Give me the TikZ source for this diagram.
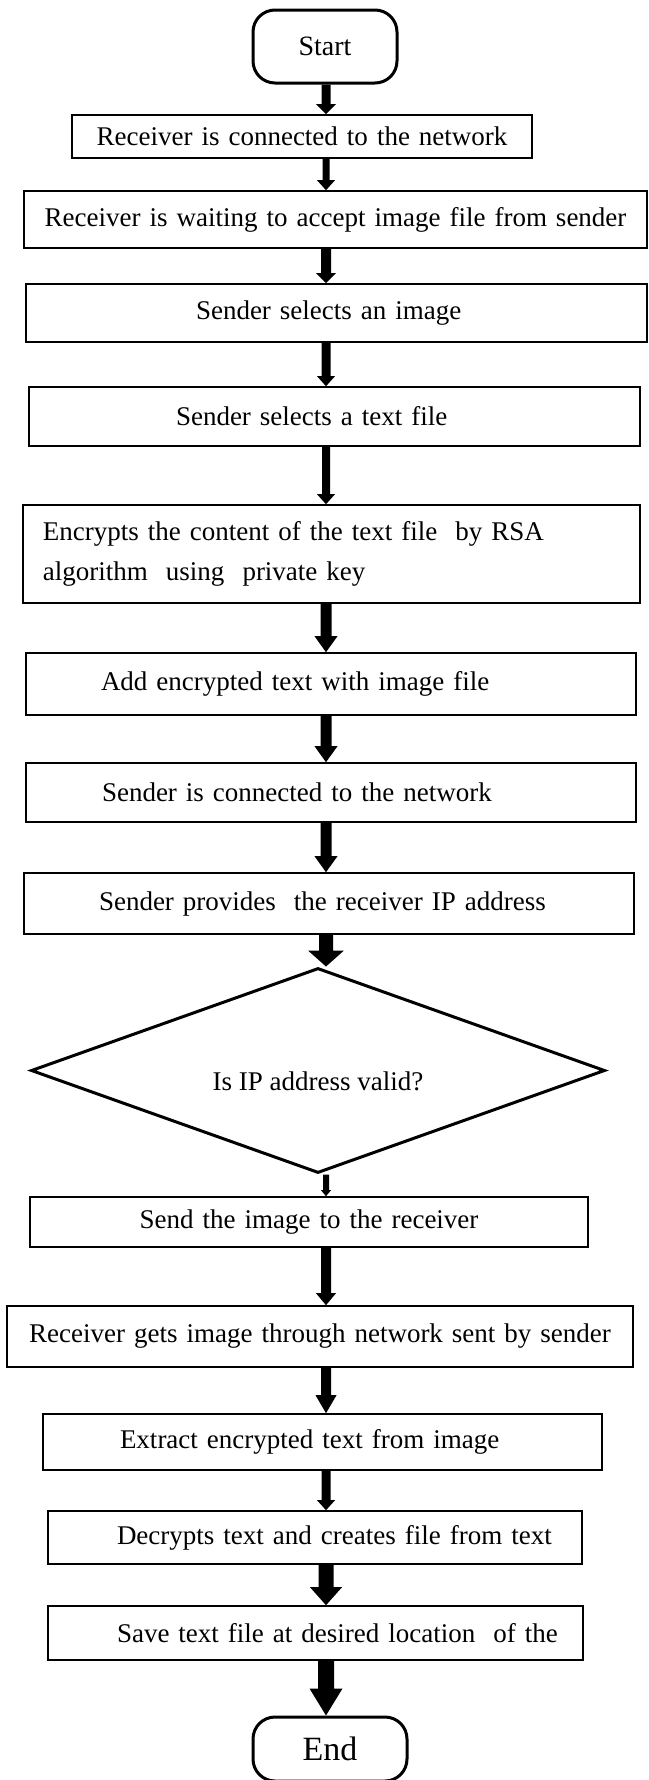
\documentclass[tikz,border=0pt]{standalone}
\usepackage{fontspec}
\setmainfont{Liberation Serif}
\usetikzlibrary{calc,shapes.geometric}

\tikzset{
  stepbox/.style={draw=black, line width=1.6pt, rectangle, inner ysep=0pt, inner xsep=4pt,
    font=\fontsize{27}{40}\selectfont},
  termbox/.style={draw=black, line width=3pt, rectangle, rounded corners=22pt, inner sep=0pt},
  decbox/.style={draw=black, line width=3pt, diamond, shape aspect=2.8, inner sep=0pt,
    font=\fontsize{27}{32}\selectfont},
  arrowfill/.style={fill=black},
}

% block arrow on the vertical axis from the bottom of #1 to the top of #2
% #3 = half shaft width, #4 = half head width, #5 = head length
\newcommand{\blockarrow}[5]{%
  \path (#1.south -| ax) coordinate (bp) (#2.north -| ax) coordinate (bq);
  \fill[arrowfill] ($(bp)+(-#3,0)$) -- ($(bq)+(-#3,-#5)$) -- ($(bq)+(-#4,-#5)$) -- (bq)
    -- ($(bq)+(#4,-#5)$) -- ($(bq)+(#3,-#5)$) -- ($(bp)+(#3,0)$) -- cycle;
}

\begin{document}
\begin{tikzpicture}[x=1pt,y=-1pt]
\useasboundingbox (0,0) rectangle (648,1780);
\coordinate (ax) at (326,0);

\node[termbox, minimum width=144pt, minimum height=73pt, font=\fontsize{28}{32}\selectfont]
  (start) at (325,46.5) {Start};

\node[stepbox, minimum height=43pt, text width=452pt, align=center]
  (b1) at (302,136.5) {Receiver is connected to the network};
\node[stepbox, minimum height=57pt, text width=615pt, align=center]
  (b2) at (335.5,219.5) {Receiver is waiting to accept image file from sender};
\node[stepbox, minimum height=58pt, text width=613pt, align=left]
  (b3) at (336.5,313) {\hspace*{166pt}Sender selects an image};
\node[stepbox, minimum height=59pt, text width=603pt, align=left]
  (b4) at (334.5,416.5) {\hspace*{143pt}Sender selects a text file};
\node[stepbox, minimum height=98pt, text width=609pt, align=left]
  (b5) at (331.5,554) {\hspace*{16pt}Encrypts the content of the text file\ \ by RSA\\
    \hspace*{16pt}algorithm\ \ using\ \ private key};
\node[stepbox, minimum height=62pt, text width=602pt, align=left]
  (b6) at (331,684) {\hspace*{71pt}Add encrypted text with image file};
\node[stepbox, minimum height=59pt, text width=602pt, align=left]
  (b7) at (331,792.5) {\hspace*{72pt}Sender is connected to the network};
\node[stepbox, minimum height=61pt, text width=602pt, align=left]
  (b8) at (329,903.5) {\hspace*{71pt}Sender provides\ \ the receiver IP address};

\node[decbox, minimum width=574pt, minimum height=205pt, text height=40pt, text depth=0pt]
  (dec) at (318,1070.5) {Is IP address valid?};

\node[stepbox, minimum height=50pt, text width=550pt, align=center]
  (b9) at (309,1222) {Send the image to the receiver};
\node[stepbox, minimum height=61pt, text width=618pt, align=center]
  (b10) at (320,1336.5) {Receiver gets image through network sent by sender};
\node[stepbox, minimum height=56pt, text width=551pt, align=left]
  (b11) at (322.5,1442) {\hspace*{73pt}Extract encrypted text from image};
\node[stepbox, minimum height=53pt, text width=526pt, align=left]
  (b12) at (315,1537.5) {\hspace*{65pt}Decrypts text and creates file from text};
\node[stepbox, minimum height=54pt, text width=527pt, align=left]
  (b13) at (315.5,1633) {\hspace*{65pt}Save text file at desired location\ \ of the};

\node[termbox, minimum width=154pt, minimum height=64pt, font=\fontsize{34}{38}\selectfont]
  (end) at (330,1749) {End};

% connectors
\blockarrow{start}{b1}{4.5}{10}{10}
\blockarrow{b1}{b2}{3.5}{9}{10}
\blockarrow{b2}{b3}{5}{10}{10}
\blockarrow{b3}{b4}{4.5}{9}{10}
\blockarrow{b4}{b5}{4}{9}{10}
\blockarrow{b5}{b6}{5.5}{11.5}{16}
\blockarrow{b6}{b7}{5.5}{11.5}{16}
\blockarrow{b7}{b8}{5.5}{11.5}{16}
\blockarrow{b8}{dec}{7}{18}{16}
\blockarrow{dec}{b9}{3}{5}{6}
\blockarrow{b9}{b10}{5}{10}{12}
\blockarrow{b10}{b11}{5}{10.5}{18}
\blockarrow{b11}{b12}{4.5}{9}{10}
\blockarrow{b12}{b13}{7.5}{16}{18}
\blockarrow{b13}{end}{8}{16.5}{27}
\end{tikzpicture}
\end{document}
